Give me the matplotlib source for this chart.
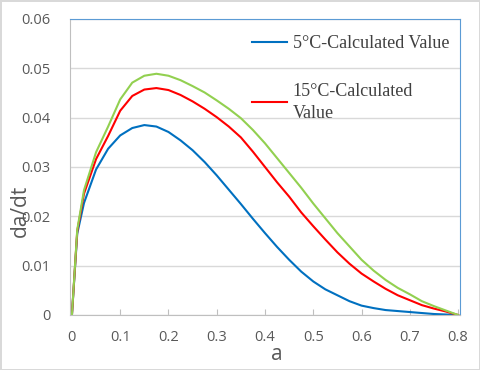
import numpy as np
import matplotlib.pyplot as plt

a = [0, 0.011, 0.025, 0.05, 0.075, 0.1, 0.125, 0.15, 0.175, 0.2, 0.225, 0.25,
     0.275, 0.3, 0.325, 0.35, 0.375, 0.4, 0.425, 0.45, 0.475, 0.5, 0.525,
     0.55, 0.575, 0.6, 0.625, 0.65, 0.675, 0.7, 0.725, 0.75, 0.775, 0.8]
rate_5c = [0, 0.0165, 0.0227, 0.0295, 0.0337, 0.0364, 0.0379, 0.0385, 0.0382,
           0.0371, 0.0354, 0.0334, 0.0310, 0.0283, 0.0254, 0.0225, 0.0195,
           0.0166, 0.0138, 0.0112, 0.0088, 0.0068, 0.0052, 0.0040, 0.0028,
           0.0019, 0.0014, 0.0010, 0.0008, 0.0006, 0.0004, 0.0002, 0.0001, 0]
rate_15c = [0, 0.0170, 0.0246, 0.0316, 0.0363, 0.0414, 0.0444, 0.0457, 0.0460,
            0.0456, 0.0446, 0.0433, 0.0418, 0.0401, 0.0382, 0.0360, 0.0331,
            0.0300, 0.0269, 0.0240, 0.0208, 0.0180, 0.0153, 0.0127, 0.0104,
            0.0084, 0.0068, 0.0053, 0.0040, 0.0030, 0.0020, 0.0013, 0.0007, 0]
rate_3 = [0, 0.0173, 0.0253, 0.0330, 0.0382, 0.0437, 0.0471, 0.0485, 0.0489,
          0.0485, 0.0476, 0.0464, 0.0451, 0.0435, 0.0418, 0.0399, 0.0375,
          0.0348, 0.0318, 0.0288, 0.0258, 0.0226, 0.0196, 0.0166, 0.0139,
          0.0112, 0.0090, 0.0071, 0.0055, 0.0042, 0.0028, 0.0018, 0.0009, 0]

grey = "#595959"
plt.rcParams["font.family"] = "Open Sans"

fig = plt.figure(figsize=(4.8, 3.7), dpi=100, linewidth=2, edgecolor="#D9D9D9")
ax = fig.add_axes([70 / 480, 55 / 370, 390 / 480, 296 / 370])

ax.plot(a, rate_5c, color="#0070C0", lw=1.5, label="5°C-Calculated Value")
ax.plot(a, rate_15c, color="#FF0000", lw=1.5, label="15°C-Calculated\nValue")
ax.plot(a, rate_3, color="#92D050", lw=1.5)

ax.set_xlim(-0.004, 0.804)
ax.set_ylim(0, 0.06)
ax.set_xticks(np.arange(0, 0.81, 0.1))
ax.set_xticklabels(["0", "0.1", "0.2", "0.3", "0.4", "0.5", "0.6", "0.7", "0.8"])
ax.set_yticks(np.arange(0, 0.061, 0.01))
ax.set_yticklabels(["0", "0.01", "0.02", "0.03", "0.04", "0.05", "0.06"])
ax.yaxis.grid(True, color="#D9D9D9", lw=1)
ax.set_axisbelow(True)
ax.tick_params(axis="x", direction="in", length=4, color="#BFBFBF",
               labelsize=10.5, labelcolor=grey, pad=11)
ax.tick_params(axis="y", length=0, labelsize=10.5, labelcolor=grey, pad=14)

for s in ["top", "right"]:
    ax.spines[s].set_color("#5B9BD5")
for s in ["left", "bottom"]:
    ax.spines[s].set_color("#BFBFBF")

ax.set_xlabel("a", fontsize=15, color=grey, va="center")
ax.xaxis.set_label_coords(0.531, -0.135)
ax.set_ylabel("da/dt", fontsize=15, color=grey, va="center")
ax.yaxis.set_label_coords(-0.126, 0.351)

leg = ax.legend(loc="upper left", bbox_to_anchor=(0.467, 0.945), frameon=False,
                borderaxespad=0, borderpad=0, handlelength=1.95,
                handletextpad=0.3, labelspacing=1.7,
                prop={"family": "Liberation Serif", "size": 13},
                labelcolor="#404040")
for t in leg.get_texts():
    t.set_linespacing(1.35)

fig.savefig("out.png")
